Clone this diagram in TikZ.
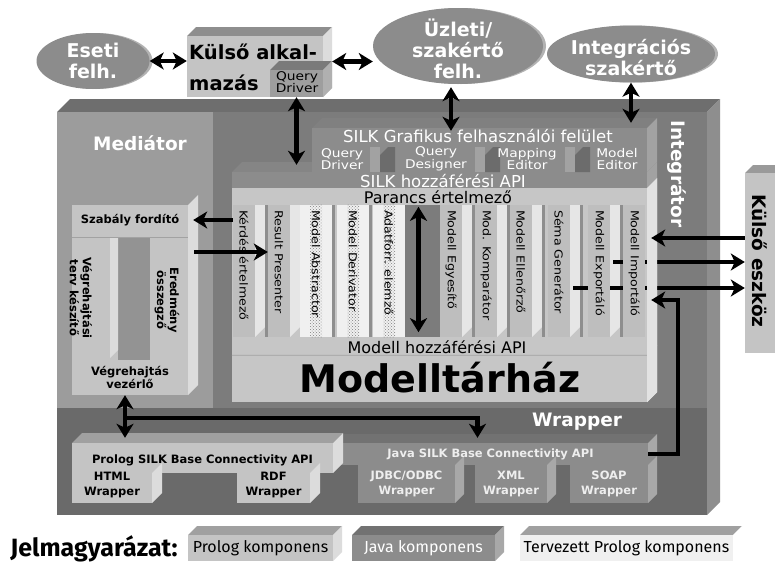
\documentclass[tikz,border=0pt]{standalone}
\usepackage{fontspec}
\setmainfont{DejaVu Sans}
\newfontfamily\colfont[FakeStretch=1.15]{DejaVu Sans}
\newfontfamily\legfont{Fira Sans}
\usetikzlibrary{arrows.meta,shapes.geometric,fit,calc,patterns}

\definecolor{prolog}{HTML}{C4C4C4}
\definecolor{sidelt}{HTML}{DCDCDC}
\definecolor{java}{HTML}{8C8C8C}
\definecolor{jside}{HTML}{A8A8A8}
\definecolor{javatop}{HTML}{727272}
\definecolor{planned}{HTML}{F0F0F0}
\definecolor{medbg}{HTML}{9C9C9C}
\definecolor{medhole}{HTML}{939393}
\definecolor{intbg}{HTML}{7C7C7C}
\definecolor{wrapbg}{HTML}{6A6A6A}
\definecolor{bigtop}{HTML}{6E6E6E}
\definecolor{bigside}{HTML}{8E8E8E}
\definecolor{repobg}{HTML}{C6C6C6}
\definecolor{reposide}{HTML}{E2E2E2}
\definecolor{apitop}{HTML}{858585}
\definecolor{apiside}{HTML}{A2A2A2}
\definecolor{guitop}{HTML}{808080}
\definecolor{guidk}{HTML}{6C6C6C}
\definecolor{colfront}{HTML}{BEBEBE}
\definecolor{colside}{HTML}{E6E6E6}
\definecolor{colgap}{HTML}{8E8E8E}
\definecolor{ellrim}{HTML}{B2B2B2}
\definecolor{kultop}{HTML}{8E8E8E}
\definecolor{qdfront}{HTML}{9E9E9E}
\definecolor{qdtop}{HTML}{7A7A7A}
\definecolor{qdside}{HTML}{B0B0B0}
\definecolor{exttop}{HTML}{9A9A9A}
\definecolor{ltop}{HTML}{A0A0A0}
\definecolor{jtxt}{HTML}{EEEEEE}

% 3D block: name, x1, y1, x2, y2, front, top face, side face
\def\blkd{10}
\newcommand{\blk}[8]{%
  \fill[#7] (#2,#3) -- ++(\blkd,-\blkd) -- ({#4+\blkd},{#3-\blkd}) -- (#4,#3) -- cycle;
  \fill[#8] (#4,#3) -- ++(\blkd,-\blkd) -- ({#4+\blkd},{#5-\blkd}) -- (#4,#5) -- cycle;
  \node[fill=#6, inner sep=0pt, fit={(#2,#3) (#4,#5)}] (#1) {};
}

\begin{document}
\begin{tikzpicture}[x=1pt, y=-1pt,
    arr/.style={line width=4.5pt, -{Stealth[length=14pt,width=17pt,inset=4pt]}},
    darr/.style={line width=4.5pt, {Stealth[length=14pt,width=17pt,inset=4pt]}-{Stealth[length=14pt,width=17pt,inset=4pt]}},
    ell/.style={ellipse, fill=java, inner sep=0pt,
      preaction={fill=ellrim, transform canvas={xshift=3pt}}},
    elltxt/.style={text=white, align=center, inner sep=0pt, font=\bfseries\fontsize{19}{21}\selectfont},
    regtitle/.style={text=white, inner sep=0pt, font=\bfseries\fontsize{18.5}{20}\selectfont},
    guitxt/.style={text=white, inner sep=0pt, font=\fontsize{16.5}{18}\selectfont},
    reptxt/.style={inner sep=0pt, font=\fontsize{16}{18}\selectfont},
    smalltxt/.style={align=center, inner sep=0pt, font=\colfont\fontsize{12}{12.5}\selectfont},
    coltxt/.style={rotate=-90, anchor=west, inner sep=0pt, font=\colfont\fontsize{11}{12}\selectfont},
    medtxt/.style={align=center, inner sep=0pt, font=\bfseries\fontsize{11.5}{13}\selectfont},
    wtxt/.style={align=center, inner sep=0pt, font=\bfseries\fontsize{11.5}{15}\selectfont},
    legtxt/.style={inner sep=0pt, font=\legfont\fontsize{16}{18}\selectfont}]
  \useasboundingbox (0,0) rectangle (775,568);
  \fill[white] (0,0) rectangle (775,568);

  % big block: Integrator, Mediator, Wrapper
  \def\blkd{13}
  \blk{intg}{57}{112}{707}{515}{intbg}{bigtop}{bigside}
  \node[fill=medbg, inner sep=0pt, fit={(57,112) (213,408)}] (med) {};
  \node[fill=wrapbg, inner sep=0pt, fit={(57,408) (707,515)}] (wrap) {};
  \node[regtitle] (medlbl) at (140,143) {Mediátor};
  \node[regtitle, rotate=-90] (intlbl) at (677,174) {Integrátor};
  \node[regtitle] (wraplbl) at (577,422) {Wrapper};

  % users
  \node[ell, minimum width=113, minimum height=56] (eseti) at (93,61) {};
  \node[elltxt] at (eseti) {Eseti\\felh.};
  \node[ell, minimum width=170, minimum height=76] (uzleti) at (458,46) {};
  \node[elltxt] at ($(uzleti)+(0,3)$) {Üzleti/\\szakértő\\felh.};
  \node[ell, minimum width=168, minimum height=57] (integr) at (631,54) {};
  \node[elltxt] at ($(integr)+(0,4)$) {Integrációs\\szakértő};

  % external application
  \def\blkd{9}
  \blk{kulso}{187}{36}{323}{97}{prolog}{kultop}{sidelt}
  \blk{qd}{270}{70}{323}{97}{qdfront}{qdtop}{qdside}
  \node[regtitle, text=black, anchor=west, font=\bfseries\fontsize{19.5}{21}\selectfont] (kulsoa) at (189,52) {Külső alkal-};
  \node[regtitle, text=black, anchor=west, font=\bfseries\fontsize{19.5}{21}\selectfont] (kulsob) at (189,83) {mazás};
  \node[smalltxt] (qdlbl) at (297,82) {Query\\Driver};
  \draw[darr] (eseti.east) -- (eseti.east -| kulso.west);
  \coordinate (ka) at ($(kulso.east)+(9,-5)$);
  \draw[darr] (ka) -- (ka -| uzleti.west);

  % external tool
  \def\blkd{8}
  \blk{ext}{745}{173}{775}{353}{prolog}{exttop}{sidelt}
  \node[regtitle, text=black, rotate=-90] (extlbl) at (760,261) {Külső eszköz};

  % model repository, access API, GUI
  \def\blkd{10}
  \blk{repo}{232}{188}{647}{402}{repobg}{apitop}{reposide}
  \blk{api}{232}{172}{647}{188}{java}{apitop}{apiside}
  \blk{gui}{312}{128}{647}{172}{java}{guitop}{apiside}
  \node[guitxt] (guilbl) at (478,136) {SILK Grafikus felhasználói felület};
  \foreach \g in {370,475,565} {
    \fill[apiside] (\g,147) rectangle (\g+10,172);
    \fill[guidk] (\g+10,172) -- (\g+10,155) -- (\g+18,147) -- (\g+25,147) -- (\g+25,172) -- cycle;
  }
  \node[smalltxt, text=white] (qdrv) at (342,159) {Query\\Driver};
  \node[smalltxt, text=white] (qdes) at (436,159) {Query\\Designer};
  \node[smalltxt, text=white] (maped) at (527,159) {Mapping\\Editor};
  \node[smalltxt, text=white] (moded) at (617,159) {Model\\Editor};
  \node[guitxt] (apilbl) at (443,181) {SILK hozzáférési API};

  \node[reptxt] (parancs) at (438,197) {Parancs értelmező};
  \node[reptxt] (mapi) at (437,347) {Modell hozzáférési API};
  \draw[apiside, line width=0.6pt] ($(repo.south west)+(0,-47)$) -- ($(repo.south east)+(0,-47)$) -- ++(10,-10);
  \node[anchor=base, inner sep=0pt, font=\bfseries\fontsize{38}{38}\selectfont] (tarhaz) at (440,392) {Modelltárház};

  % component columns
  \foreach \x/\nm in {233/kerd,268/resp,440/egy,475/komp,510/ell,548/sema,588/exp,623/imp}
    \node[inner sep=0pt, fit={(\x,205) (\x+22,337)}] (\nm) {};
  \foreach \x/\nm in {300/mabs,337/mder,373/adat}
    \node[inner sep=0pt, fit={(\x,205) (\x+32,337)}] (\nm) {};
  \foreach \x in {233,268,440,475,510,548,588} {
    \fill[colside] (\x+22,205) -- (\x+32,205) -- (\x+32,327) -- (\x+22,337) -- cycle;
    \fill[colgap] (\x+32,205) rectangle (\x+35,337);
  }
  \foreach \x in {300,337,373} \fill[colgap] (\x+32,205) rectangle (\x+35,337);
  \node[fill=intbg, inner sep=0pt, fit={(405,205) (440,337)}] (mid) {};

  \coordinate (x2) at ($(exp.east)+(3,-9)$);
  \draw[arr] (x2) -- (x2 -| ext.west); % export
  \coordinate (x3) at ($(sema.east)+(3,17)$);
  \draw[arr] (x3) -- (x3 -| ext.west); % schema

  \foreach \nm/\lab in {kerd/Kérdés értelmező, resp/Result Presenter, egy/Modell Egyesítő,
      komp/Mod. Komparátor, ell/Modell Ellenőrző, sema/Séma Generátor,
      exp/Modell Exportáló, imp/Modell Importáló} {
    \fill[colfront] (\nm.north west) rectangle (\nm.south east);
    \node[coltxt] at ($(\nm.north)+(0,5)$) {\lab};
  }
  \foreach \nm/\lab in {mabs/Model Abstractor, mder/Model Derivator, adat/Adatforr. elemző} {
    \fill[planned] (\nm.north west) rectangle (\nm.south east);
    \fill[pattern=crosshatch dots, pattern color=gray] ($(\nm.north)+(-6,0)$) rectangle ($(\nm.south)+(6,0)$);
    \node[coltxt] at ($(\nm.north)+(0,5)$) {\lab};
  }
  \fill[reposide] (repo.north east) -- ++(10,-10) -- ($(repo.south east)+(10,-10)$) -- (repo.south east) -- cycle;
  \draw[darr] ($(mid.north)+(-4,2)$) -- ($(mid.south)+(-4,-5)$);
  \coordinate (x1) at ($(ext.west)+(0,-25)$);
  \draw[arr] (x1) -- ($(x1 -| imp.east)+(6,0)$); % import

  % top connectors
  \draw[darr] (qd.south) -- ($(qd.south |- api.north)+(0,-7)$);
  \coordinate (ua) at ($(uzleti.south)+(-7,3)$);
  \draw[darr] (ua) -- ($(ua |- gui.north)+(0,3)$);
  \draw[darr] (integr.south) -- ($(integr.south |- gui.north)+(0,-5)$);

  % mediator parts
  \blk{umed}{72}{205}{188}{395}{prolog}{medbg}{sidelt}
  \fill[medhole] (118,237) rectangle (150,360);
  \fill[sidelt] (110,237) -- (118,237) -- (118,350) -- (110,358) -- cycle;
  \draw[apiside, line width=0.6pt] ($(umed.north west)+(0,32)$) -- ($(umed.north east)+(0,32)$);
  \node[medtxt] (szab) at (130,220) {Szabály fordító};
  \node[medtxt, rotate=-90] (vterv) at (81,298) {Végrehajtási\\terv készítő};
  \node[medtxt, rotate=-90] (ergy) at (167,300) {Eredmény\\összegző};
  \node[medtxt] (vez) at (130,377) {Végrehajtás\\vezérlő};
  \draw[arr] (szab -| kerd.west) -- ($(szab -| umed.east)+(5,0)$);
  \draw[arr] ($(umed.east)+(6,-48)$) -- ($(umed.east -| resp.west)+(0,-48)$);

  % wrappers
  \def\blkd{9}
  \blk{japi}{333}{443}{648}{465}{java}{javatop}{jside}
  \blk{jdbc}{358}{465}{455}{503}{java}{java}{jside}
  \blk{xml}{475}{465}{547}{503}{java}{java}{jside}
  \blk{soap}{570}{465}{648}{503}{java}{java}{jside}
  \def\blkd{10}
  \blk{papi}{72}{443}{333}{473}{prolog}{ltop}{sidelt}
  \blk{html}{72}{473}{152}{503}{prolog}{prolog}{sidelt}
  \blk{rdf}{237}{473}{310}{503}{prolog}{prolog}{sidelt}
  \node[wtxt] (papilbl) at ($(papi)+(0,2)$) {Prolog SILK Base Connectivity API};
  \node[wtxt, text=jtxt] (japilbl) at (japi) {Java SILK Base Connectivity API};
  \node[wtxt] (htmllbl) at ($(html)+(0,-3)$) {HTML\\Wrapper};
  \node[wtxt] (rdflbl) at ($(rdf)+(0,-3)$) {RDF\\Wrapper};
  \node[wtxt, text=jtxt] (jdbclbl) at (jdbc) {JDBC/ODBC\\Wrapper};
  \node[wtxt, text=jtxt] (xmllbl) at (xml) {XML\\Wrapper};
  \node[wtxt, text=jtxt] (soaplbl) at (soap) {SOAP\\Wrapper};

  \coordinate (vx) at ($(umed.south)+(-5,0)$);
  \draw[darr] (vx) -- ($(vx |- papi.north)+(0,-5)$);
  \coordinate (wj) at ($(vx)+(0,23)$);
  \draw[arr] (wj) -| ($(japi.north)+(-13,-5)$);
  \coordinate (x4) at ($(imp.east)+(33,29)$);
  \draw[arr] (japi.east) -| (x4) -- ($(x4 -| imp.east)+(6,0)$);

  % legend
  \node[inner sep=0pt, font=\legfont\bfseries\fontsize{25}{27}\selectfont] (leg) at (94,549) {Jelmagyarázat:};
  \def\blkd{9}
  \blk{lpro}{188}{535}{333}{561}{prolog}{ltop}{sidelt}
  \blk{ljava}{352}{535}{495}{561}{java}{javatop}{jside}
  \blk{lplan}{520}{535}{733}{561}{planned}{ltop}{white}
  \node[legtxt] at (lpro) {Prolog komponens};
  \node[legtxt, text=white] at (ljava) {Java komponens};
  \node[legtxt] at (lplan) {Tervezett Prolog komponens};
\end{tikzpicture}
\end{document}
